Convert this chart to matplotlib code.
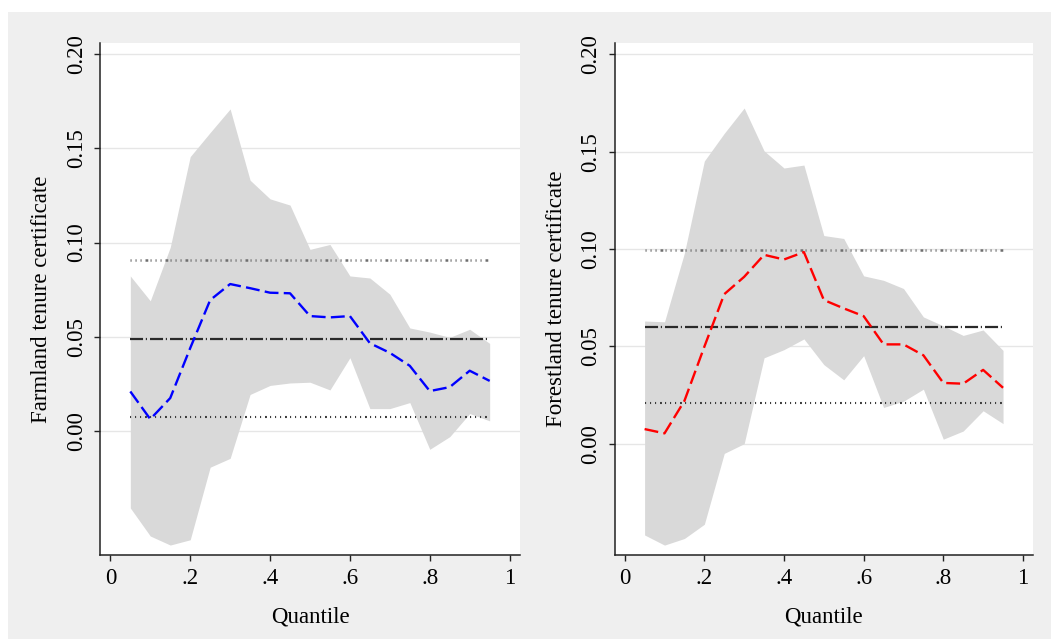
import numpy as np
import matplotlib
matplotlib.use("Agg")
import matplotlib.pyplot as plt
from matplotlib.patches import Rectangle

plt.rcParams['font.family'] = ['Liberation Serif', 'DejaVu Serif']
plt.rcParams['lines.scale_dashes'] = False

quantiles = [0.05, 0.10, 0.15, 0.20, 0.25, 0.30, 0.35, 0.40, 0.45, 0.50,
             0.55, 0.60, 0.65, 0.70, 0.75, 0.80, 0.85, 0.90, 0.95]

# farmland panel
farm_coef = [0.021, 0.0063, 0.0175, 0.044, 0.0695, 0.078, 0.0758, 0.0734, 0.0731, 0.061,
             0.0603, 0.061, 0.0466, 0.0415, 0.0346, 0.0212, 0.0233, 0.032, 0.0266]
farm_upper = [0.0823, 0.0691, 0.0975, 0.1456, 0.1584, 0.1709, 0.1331, 0.1232, 0.1199, 0.0964,
              0.099, 0.0823, 0.0812, 0.0726, 0.0547, 0.0525, 0.0497, 0.054, 0.0465]
farm_lower = [-0.0408, -0.0557, -0.0605, -0.0577, -0.0192, -0.0145, 0.0194, 0.0242, 0.0255, 0.0259,
              0.0218, 0.0389, 0.0119, 0.0119, 0.0151, -0.0097, -0.003, 0.0093, 0.0054]
farm_ols = 0.049
farm_ols_hi = 0.0908
farm_ols_lo = 0.0073

# forestland panel
forest_coef = [0.0075, 0.0053, 0.022, 0.0498, 0.0768, 0.0857, 0.097, 0.0946, 0.0984, 0.0738,
               0.0695, 0.0655, 0.051, 0.051, 0.0454, 0.0312, 0.0308, 0.0379, 0.0287]
forest_upper = [0.063, 0.0626, 0.098, 0.1452, 0.1594, 0.1724, 0.1504, 0.1416, 0.1431, 0.1069,
                0.1054, 0.0862, 0.0839, 0.0797, 0.0651, 0.0605, 0.0556, 0.0584, 0.0479]
forest_lower = [-0.0469, -0.0521, -0.0487, -0.0414, -0.005, 0.0, 0.0441, 0.0483, 0.0538, 0.0406,
                0.0328, 0.0452, 0.0186, 0.0218, 0.028, 0.0023, 0.0065, 0.0169, 0.0103]
forest_ols = 0.060
forest_ols_hi = 0.0994
forest_ols_lo = 0.0207

x_ticks = [0, 0.2, 0.4, 0.6, 0.8, 1.0]
x_ticklabels = ['0', '.2', '.4', '.6', '.8', '1']
y_ticks = [0.0, 0.05, 0.10, 0.15, 0.20]
y_ticklabels = ['0.00', '0.05', '0.10', '0.15', '0.20']

fig = plt.figure(figsize=(10.51, 6.39), dpi=100, facecolor='white')
fig.patches.append(Rectangle((7.5 / 1051, 0), 1, 1 - 11.5 / 639, transform=fig.transFigure,
                             facecolor='#efefef', edgecolor='none', zorder=-10))

ax1 = fig.add_axes([0.0955, 0.1311, 0.3989, 0.8019])
ax2 = fig.add_axes([0.5849, 0.1311, 0.3979, 0.8019])


def draw_panel(ax, coef, upper, lower, ols, hi, lo, color, ylabel, ylim):
    ax.set_facecolor('white')
    ax.fill_between(quantiles, lower, upper, color='#d9d9d9', linewidth=0, zorder=2)
    x0, x1 = quantiles[0], quantiles[-1]
    ax.plot([x0, x1], [hi, hi], color='#6e6e6e', linewidth=1.8,
            dashes=(0.8, 2.8, 0.8, 2.8, 0.8, 2.8, 2.0, 1.6), zorder=3)
    ax.plot([x0, x1], [lo, lo], color='#3c3c3c', linewidth=1.5,
            dashes=(0.8, 2.8, 0.8, 2.8, 0.8, 2.8, 1.4, 2.2), zorder=3)
    ax.plot([x0, x1], [ols, ols], color='#2a2a2a', linewidth=1.6,
            dashes=(9.4, 2.0, 0.8, 2.2), zorder=3)
    ax.plot(quantiles, coef, color=color, linewidth=1.7, dashes=(10, 3.8), zorder=4)

    ax.set_xlim(-0.025, 1.025)
    ax.set_ylim(*ylim)
    ax.set_xticks(x_ticks)
    ax.set_xticklabels(x_ticklabels)
    ax.set_yticks(y_ticks)
    ax.set_yticklabels(y_ticklabels, rotation=90, va='center')
    ax.yaxis.grid(True, color='#e6e6e6', linewidth=1.0, zorder=1)
    ax.set_axisbelow(True)
    for s in ['top', 'right']:
        ax.spines[s].set_visible(False)
    for s in ['left', 'bottom']:
        ax.spines[s].set_color('#222222')
        ax.spines[s].set_linewidth(1.1)
    ax.tick_params(axis='both', direction='out', length=4.5, width=1.0,
                   color='#222222', labelsize=16.5, pad=5)
    ax.set_xlabel('Quantile', fontsize=16.5, labelpad=12)
    ax.set_ylabel(ylabel, fontsize=16.5, labelpad=10)


draw_panel(ax1, farm_coef, farm_upper, farm_lower, farm_ols, farm_ols_hi, farm_ols_lo,
           '#0000ff', 'Farmland tenure certificate', (-0.0659, 0.206))
draw_panel(ax2, forest_coef, forest_upper, forest_lower, forest_ols, forest_ols_hi, forest_ols_lo,
           '#ff0000', 'Forestland tenure certificate', (-0.0573, 0.2059))

fig.savefig('out.png', dpi=100, facecolor=fig.get_facecolor())
